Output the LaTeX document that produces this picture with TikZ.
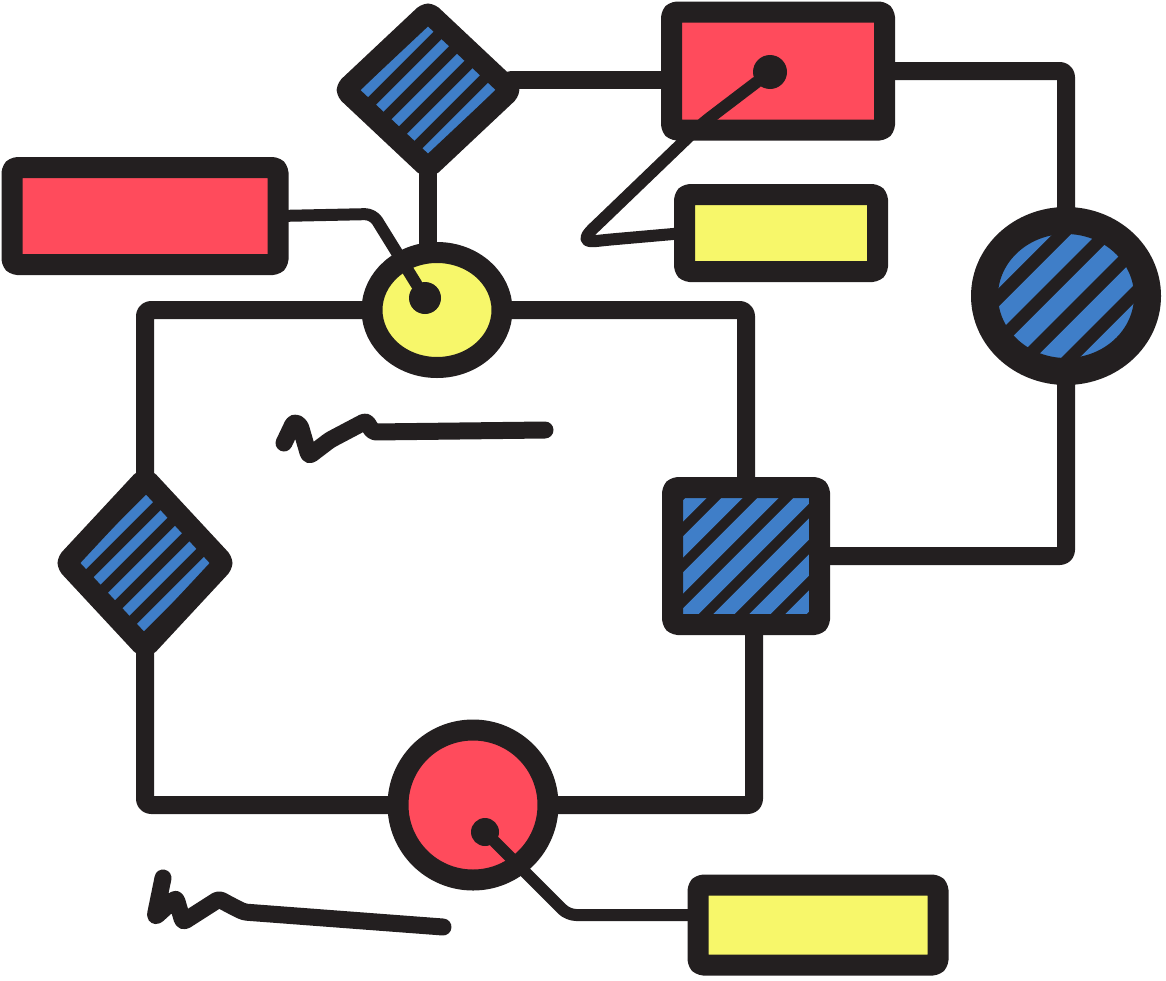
\documentclass[tikz,border=0pt]{standalone}
\usetikzlibrary{shapes.geometric, backgrounds}
\definecolor{ink}{HTML}{231F20}
\definecolor{rosered}{HTML}{FF4B5C}
\definecolor{lemon}{HTML}{F7F76A}
\definecolor{hatchblue}{HTML}{3F7EC8}
\begin{document}
\begin{tikzpicture}[x=1pt, y=-1pt,
  box/.style={draw=ink, line width=21pt, rounded corners=5pt, line join=round,
              inner sep=0pt, outer sep=0pt},
  hatch/.style 2 args={fill=ink, path picture={
      \foreach \k in {-9,...,9}
        \draw[draw=hatchblue, line width=#2] ([xshift=\k*#1]path picture bounding box.center) ++(-180,180) -- ++(360,-360);}},
  dot/.style={circle, fill=ink, inner sep=0pt, minimum size=32pt},
  link/.style={draw=ink, line width=18pt, rounded corners=6pt, line cap=round, line join=round},
  thinlink/.style={draw=ink, line width=12pt, rounded corners=8pt, line cap=round, line join=round},
  scribble/.style={draw=ink, line width=17pt, rounded corners=3pt, line cap=round, line join=round}
]
\useasboundingbox (0,0) rectangle (1166,980);

% boxes
\node[box, fill=rosered, minimum width=213pt, minimum height=118pt] (redTop)  at (778,71)  {};
\node[box, fill=rosered, minimum width=266pt, minimum height=97pt]  (redLeft) at (145,216) {};
\node[box, fill=lemon,   minimum width=193pt, minimum height=77pt]  (yelTop)  at (781,233) {};
\node[box, fill=lemon,   minimum width=240pt, minimum height=80pt]  (yelBot)  at (818,925) {};
\node[box, hatch={36pt}{15pt}, minimum width=147pt, minimum height=137pt] (sqr) at (746,556) {};

% decisions and circles
\node[box, hatch={30pt}{10pt}, diamond, minimum width=166pt, minimum height=156pt] (dmdTop)  at (428,90)  {};
\node[box, hatch={30pt}{10pt}, diamond, minimum width=158pt, minimum height=170pt] (dmdLeft) at (145,563) {};
\node[box, hatch={44pt}{18pt}, ellipse, line width=27pt, minimum width=163pt, minimum height=151pt] (cirRight) at (1066,296) {};
\node[box, fill=lemon, ellipse, minimum width=130pt, minimum height=115pt] (cirTop) at (437,310) {};
\node[box, fill=rosered, circle, minimum size=150pt] (cirBot) at (473,805) {};

% main loop
\begin{scope}[on background layer]
  \draw[link] (redTop.east) -| (cirRight.north);
  \draw[link] (cirRight.south) |- (sqr.east);
  \draw[link] ([yshift=10pt]dmdTop.east) -- ([yshift=10pt]dmdTop.east -| redTop.west);
  \draw[link] (dmdTop.south) -- (dmdTop.south |- cirTop.north);
  \draw[link] (cirTop.west) -| (dmdLeft.north);
  \draw[link] (dmdLeft.south) |- (cirBot.west);
  \draw[link] (cirBot.east) -| ([xshift=8pt]sqr.south);
  \draw[link] (sqr.north) |- (cirTop.east);
\end{scope}

% pins
\node[dot] (dotA) at (425,298) {};
\node[dot, minimum size=34pt] (dotB) at (770,72) {};
\node[dot, minimum size=28pt] (dotC) at (485,832) {};
\coordinate (kneeC) at (568,915);

\draw[thinlink] (redLeft.east) -- ++(95,-2) -- (dotA);
\draw[thinlink] (dotB) -- (703,123) -- (600,222) .. controls (580,241) and (588,242) .. (605,240) -- (yelTop.west);
\draw[thinlink] (dotC) -- (kneeC) -- (kneeC -| yelBot.west);

% scribbles
\draw[scribble] (284,443) -- (294,422) -- (300,425) -- (309,456) -- (330,440) -- (366,421) -- (373,432) -- (545,430);
\draw[scribble] (163,878) -- (155,917) -- (176,898) -- (183,922) -- (219,899) -- (230,905) -- (244,912) -- (443,927);

\end{tikzpicture}
\end{document}
